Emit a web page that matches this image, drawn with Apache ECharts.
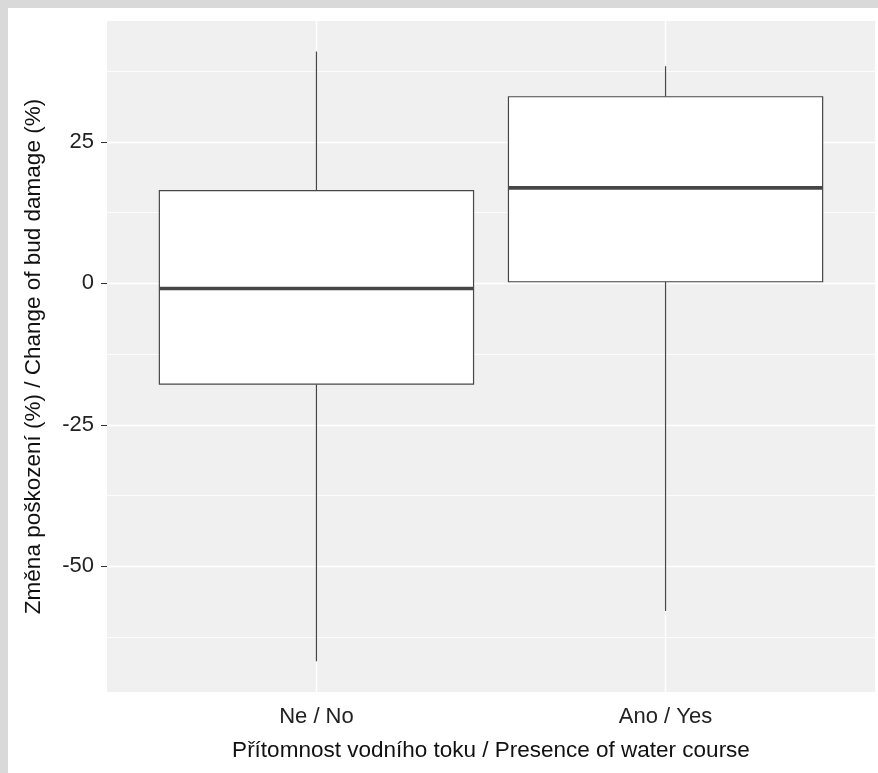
<!DOCTYPE html>
<html>
<head>
<meta charset="utf-8">
<script src="https://cdn.jsdelivr.net/npm/echarts@6/dist/echarts.min.js"></script>
<style>
  html, body { margin: 0; padding: 0; background: #d9d9d9; }
  #chart { position: absolute; left: 8px; top: 8px; width: 870px; height: 765px; background: #ffffff; }
</style>
</head>
<body>
<div id="chart"></div>
<script>
// Groups on the x axis
const categories = ['Ne / No', 'Ano / Yes'];

// Five-number summaries per group (%)
const whiskerLow  = [-66.8, -57.9];
const quartile1   = [-17.8,   0.3];
const medians     = [ -0.9,  16.9];
const quartile3   = [ 16.4,  33.0];
const whiskerHigh = [ 41.0,  38.4];

// Tick labels / grid positions on the y axis
const yMajorTicks = [-50, -25, 0, 25];
const yMinorTicks = [-62.5, -37.5, -12.5, 12.5, 37.5];
const xPositions  = [1, 2];

const Y_MIN = -72.22, Y_MAX = 46.39;
const BOX_WIDTH = 0.9;
const LINE_COLOR = '#474747';
const FONT = '"Liberation Sans", Arial, Helvetica, sans-serif';

const rows = categories.map((c, i) => [
  xPositions[i], whiskerLow[i], quartile1[i], medians[i], quartile3[i], whiskerHigh[i]
]);

// Box, whiskers (no caps) and a heavier median line
function renderBox(params, api) {
  const x = api.value(0);
  const lo = api.coord([x, api.value(1)]);
  const q1 = api.coord([x, api.value(2)]);
  const md = api.coord([x, api.value(3)]);
  const q3 = api.coord([x, api.value(4)]);
  const hi = api.coord([x, api.value(5)]);
  const w = api.size([BOX_WIDTH, 0])[0];
  const h = w / 2;
  const thin = { stroke: LINE_COLOR, lineWidth: 1.2 };
  return {
    type: 'group',
    children: [
      { type: 'line', shape: { x1: lo[0], y1: lo[1], x2: q1[0], y2: q1[1] }, style: thin },
      { type: 'line', shape: { x1: q3[0], y1: q3[1], x2: hi[0], y2: hi[1] }, style: thin },
      { type: 'rect', shape: { x: q3[0] - h, y: q3[1], width: w, height: q1[1] - q3[1] },
        style: { fill: '#ffffff', stroke: LINE_COLOR, lineWidth: 1.2 } },
      { type: 'line', shape: { x1: md[0] - h, y1: md[1], x2: md[0] + h, y2: md[1] },
        style: { stroke: LINE_COLOR, lineWidth: 3.6 } }
    ]
  };
}

const chart = echarts.init(document.getElementById('chart'), null, { renderer: 'canvas' });

chart.setOption({
  animation: false,
  textStyle: { fontFamily: FONT },
  grid: {
    left: 99, right: 3, top: 13, bottom: 81,
    show: true, backgroundColor: '#f0f0f0', borderWidth: 0
  },
  xAxis: {
    type: 'value',
    min: 0.4, max: 2.6,
    name: 'Přítomnost vodního toku / Presence of water course',
    nameLocation: 'middle',
    nameGap: 47,
    nameTextStyle: { fontSize: 22.5, color: '#111', fontFamily: FONT },
    axisLine: { show: false },
    axisTick: { show: true, customValues: xPositions, length: 6, lineStyle: { color: '#333', width: 1 } },
    axisLabel: {
      customValues: xPositions,
      formatter: v => categories[Math.round(v) - 1],
      fontSize: 22, color: '#222', margin: 14, fontFamily: FONT
    },
    splitLine: { show: true, lineStyle: { color: '#ffffff', width: 1.4 } }
  },
  yAxis: [
    {
      type: 'value',
      min: Y_MIN, max: Y_MAX,
      name: 'Změna poškození (%) / Change of bud damage (%)',
      nameLocation: 'middle',
      nameGap: 62,
      nameTextStyle: { fontSize: 22.5, color: '#111', fontFamily: FONT },
      axisLine: { show: false },
      axisTick: { show: true, customValues: yMajorTicks, length: 6, lineStyle: { color: '#333', width: 1 } },
      axisLabel: { customValues: yMajorTicks, fontSize: 22, color: '#222', margin: 13, fontFamily: FONT },
      splitLine: { show: true, lineStyle: { color: '#ffffff', width: 1.4 } }
    },
    {
      type: 'value',
      min: Y_MIN, max: Y_MAX,
      axisLine: { show: false },
      axisTick: { show: false, customValues: yMinorTicks },
      axisLabel: { show: false, customValues: yMinorTicks },
      splitLine: { show: true, lineStyle: { color: '#ffffff', width: 0.8 } }
    }
  ],
  series: [{
    type: 'custom',
    renderItem: renderBox,
    data: rows,
    encode: { x: 0, y: [1, 2, 3, 4, 5] },
    z: 10
  }]
});
</script>
</body>
</html>
